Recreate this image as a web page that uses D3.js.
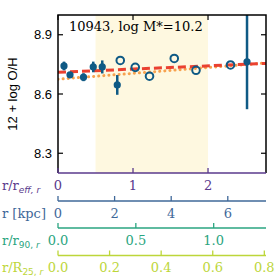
<!DOCTYPE html>
<html><head><meta charset="utf-8">
<script src="https://cdn.jsdelivr.net/npm/d3@7"></script>
<style>body{margin:0;background:#fff}svg{display:block}</style>
</head><body>
<svg id="c" width="277" height="277"></svg>
<script>
// ---- data ----
const filledR   = [0.08, 0.16, 0.34, 0.47, 0.59, 0.79, 2.52];
const filledV   = [8.742, 8.697, 8.685, 8.737, 8.737, 8.646, 8.763];
const filledErr = [0.022, 0.012, 0.02, 0.027, 0.033, 0.05, 0.24];
const openR     = [0.83, 1.03, 1.22, 1.55, 1.84, 2.30];
const openV     = [8.77, 8.735, 8.69, 8.78, 8.72, 8.747];
const fitRedR   = [0, 2.773];
const fitRedV   = [8.71, 8.755];
const fitOrgR   = [0, 2.773];
const fitOrgV   = [8.675, 8.757];
const shadeR    = [0.5, 2.0];
const yTicks    = [8.3, 8.6, 8.9];
const reffTicks = [0, 1, 2];
const kpcTicks  = [0, 2, 4, 6];
const r90Ticks  = [0.0, 0.5, 1.0];
const r25Ticks  = [0.0, 0.2, 0.4, 0.6, 0.8];
const title     = "10943, log M*=10.2";

// ---- layout ----
const L = 58, R = 266, T = 15, B = 173;
const svg = d3.select("#c");
const x = d3.scaleLinear().domain([0, 2.773]).range([L, R]);
const y = d3.scaleLinear().domain([8.2, 9.0]).range([B, T]);
const blue = "#0f5a85";

svg.append("defs").append("clipPath").attr("id","clip")
  .append("rect").attr("x",L).attr("y",T).attr("width",R-L).attr("height",B-T);

const g = svg.append("g").attr("clip-path","url(#clip)");
g.append("rect").attr("x", x(shadeR[0])).attr("y", T)
  .attr("width", x(shadeR[1]) - x(shadeR[0])).attr("height", B - T)
  .attr("fill", "#fef8e0");

const line = d3.line().x(d => x(d[0])).y(d => y(d[1]));
g.append("path").datum(d3.zip(fitOrgR, fitOrgV)).attr("d", line)
  .attr("fill","none").attr("stroke","#f7a24f").attr("stroke-width",3)
  .attr("stroke-dasharray","0.1 5").attr("stroke-linecap","round");
g.append("path").datum(d3.zip(fitRedR, fitRedV)).attr("d", line)
  .attr("fill","none").attr("stroke","#ea4130").attr("stroke-width",3)
  .attr("stroke-dasharray","8 4");

// open circles
g.selectAll("circle.o").data(d3.zip(openR, openV)).join("circle")
  .attr("cx", d => x(d[0])).attr("cy", d => y(d[1])).attr("r", 3.8)
  .attr("fill","none").attr("stroke", blue).attr("stroke-width", 2);
// error bars
g.selectAll("line.e").data(d3.zip(filledR, filledV, filledErr)).join("line")
  .attr("x1", d => x(d[0])).attr("x2", d => x(d[0]))
  .attr("y1", d => y(d[1] - d[2])).attr("y2", d => y(d[1] + d[2]))
  .attr("stroke", blue).attr("stroke-width", 2.5);
g.selectAll("circle.f").data(d3.zip(filledR, filledV)).join("circle")
  .attr("cx", d => x(d[0])).attr("cy", d => y(d[1])).attr("r", 3.6)
  .attr("fill", blue);

// frame
svg.append("path").attr("d", `M${L},${B}V${T}H${R}V${B}`)
  .attr("fill","none").attr("stroke","#000").attr("stroke-width",1.5);

// y ticks
yTicks.forEach(v => {
  svg.append("line").attr("x1",L).attr("x2",L+5).attr("y1",y(v)).attr("y2",y(v)).attr("stroke","#000").attr("stroke-width",1.2);
  svg.append("line").attr("x1",R-5).attr("x2",R).attr("y1",y(v)).attr("y2",y(v)).attr("stroke","#000").attr("stroke-width",1.2);
  svg.append("text").attr("x", L-6).attr("y", y(v)).attr("dy","0.36em")
    .attr("text-anchor","end").attr("font-family","Liberation Sans, Arial, sans-serif")
    .attr("font-size",13).text(v.toFixed(1));
});
// top ticks
reffTicks.forEach(v => {
  svg.append("line").attr("x1",x(v)).attr("x2",x(v)).attr("y1",T).attr("y2",T+5).attr("stroke","#000").attr("stroke-width",1.2);
});
svg.append("text").attr("transform",`translate(17,${(T+B)/2}) rotate(-90)`)
  .attr("text-anchor","middle").attr("font-family","Liberation Sans, Arial, sans-serif")
  .attr("font-size",13).text("12 + log O/H");

svg.append("text").attr("x",69).attr("y",31).attr("font-family","DejaVu Serif, serif")
  .attr("font-size",13).text(title);

// bottom axes
const serif = "DejaVu Serif, serif";
function bottomAxis(ticks, dom, ly, color, fmt, labelParts) {
  const s = d3.scaleLinear().domain([0, dom]).range([L, R]);
  svg.append("line").attr("x1",L).attr("x2",R).attr("y1",ly).attr("y2",ly)
    .attr("stroke",color).attr("stroke-width",1.6);
  ticks.forEach(v => {
    svg.append("line").attr("x1",s(v)).attr("x2",s(v)).attr("y1",ly-5).attr("y2",ly)
      .attr("stroke",color).attr("stroke-width",1.3);
    svg.append("text").attr("x",s(v)).attr("y",ly+12).attr("dy","0.36em")
      .attr("text-anchor","middle").attr("font-family",serif).attr("font-size",13)
      .attr("fill",color).text(fmt(v));
  });
  const t = svg.append("text").attr("x",2).attr("y",ly+12).attr("dy","0.36em")
    .attr("font-family",serif).attr("font-size",13).attr("fill",color);
  labelParts.forEach(p => {
    const ts = t.append("tspan").text(p.t);
    if (p.sub) ts.attr("font-size",9).attr("dy", p.dy).attr("font-family", p.ff || serif).attr("font-style", p.it ? "italic" : null);
    else if (p.dy) ts.attr("dy", p.dy);
  });
}
bottomAxis(reffTicks, 2.773, B, "#5a3a8c", d => d3.format("d")(d),
  [{t:"r/r"},{t:"eff, r",sub:true,dy:3,it:true,ff:"DejaVu Sans, sans-serif"}]);
bottomAxis(kpcTicks, 7.35, 201, "#3f6899", d => d3.format("d")(d),
  [{t:"r [kpc]"}]);
bottomAxis(r90Ticks, 1.336, 228, "#2aa580", d => d.toFixed(1),
  [{t:"r/r"},{t:"90,",sub:true,dy:3,ff:"DejaVu Sans, sans-serif"},{t:" r",sub:true,dy:0,it:true,ff:"DejaVu Sans, sans-serif"}]);
bottomAxis(r25Ticks, 0.8065, 255.5, "#bdd63a", d => d.toFixed(1),
  [{t:"r/R"},{t:"25,",sub:true,dy:3,ff:"DejaVu Sans, sans-serif"},{t:" r",sub:true,dy:0,it:true,ff:"DejaVu Sans, sans-serif"}]);
</script>
</body></html>
